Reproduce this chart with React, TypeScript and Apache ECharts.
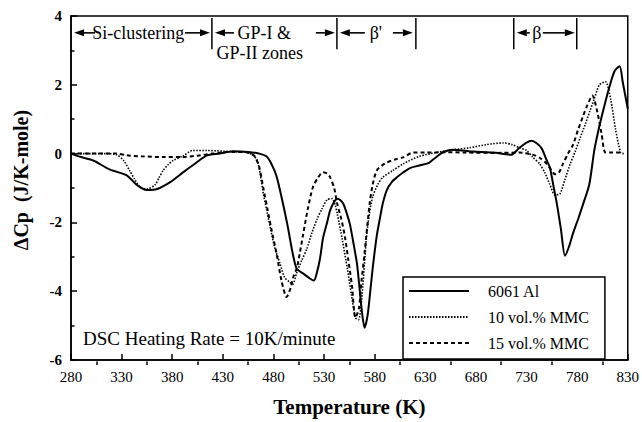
import React, { useEffect, useRef } from "react";
import * as echarts from "echarts";

const FONT = "'Liberation Serif', 'Times New Roman', serif";

// Temperature (K), ΔCp (J/K-mole)
const al6061: [number, number][] = [
  [280, 0], [290, -0.1], [302, -0.2], [318, -0.46], [335, -0.63], [345, -0.91], [355, -1.06],
  [365, -1.03], [378, -0.83], [391, -0.54], [404, -0.26], [414, -0.06], [427, 0], [440, 0.07],
  [455, 0.05], [466, 0.0], [473, -0.08], [478, -0.3], [483, -0.65], [489, -1.4], [494, -2.1],
  [499, -2.9], [503, -3.35], [509, -3.48], [516, -3.63], [520, -3.69], [523, -3.45], [526, -3.05],
  [529, -2.45], [533, -2.0], [536, -1.65], [540, -1.4], [543, -1.31], [546, -1.35], [549, -1.46],
  [552, -1.7], [555.5, -2.05], [559, -2.6], [562.5, -3.2], [565, -3.9], [567, -4.49], [570, -5.06],
  [573, -4.7], [576, -3.9], [578, -3.34], [582, -2.4], [585, -1.91], [588, -1.45], [592, -1.06],
  [597, -0.82], [602, -0.69], [608, -0.55], [615, -0.42], [625, -0.34], [634, -0.26], [640, -0.12],
  [647, 0.03], [657, 0.11], [667, 0.09], [677, 0.06], [697, 0.03], [715, -0.03], [723, 0.17],
  [730, 0.32], [735, 0.37], [740, 0.3], [745, 0.15], [750, -0.2], [753, -0.4], [757, -1.0],
  [760, -1.46], [764, -2.2], [768, -2.97], [772, -2.7], [776, -2.31], [781, -1.9], [786, -1.46],
  [792, -0.9], [797, 0.1], [802, 0.8], [807, 1.4], [812, 1.95], [817, 2.4], [822, 2.54],
  [825, 2.09], [830, 1.3],
];

const mmc10: [number, number][] = [
  [280, 0], [300, 0], [315, 0], [325, -0.03], [332, -0.2], [338, -0.5], [343, -0.75], [348, -0.97],
  [355, -1.03], [363, -0.91], [367, -0.7], [371, -0.49], [376, -0.32], [381, -0.2], [391, -0.06],
  [400, 0.09], [414, 0.09], [430, 0.07], [445, 0.05], [454, 0.03], [460, -0.05], [464, -0.2],
  [467, -0.6], [470, -1.17], [473, -1.6], [476.5, -2.1], [481, -2.7], [486.5, -3.2], [491, -3.6],
  [496, -3.74], [499, -3.8], [503, -3.46], [508, -3.1], [513, -2.77], [518, -2.3], [523, -1.91],
  [528, -1.6], [533, -1.34], [538, -1.31], [541, -1.5], [543, -1.74], [548, -2.5], [553, -3.34],
  [557, -4.1], [561, -4.77], [564, -4.83], [567, -4.31], [572, -2.4], [575, -1.7], [578, -1.26],
  [583, -0.9], [588, -0.69], [598, -0.49], [608, -0.3], [624, -0.08], [641, 0.03], [657, 0.11],
  [674, 0.17], [690, 0.26], [707, 0.31], [716, 0.26], [723, 0.17], [730, 0.09], [736, -0.1],
  [743, -0.3], [748, -0.55], [753, -0.89], [758, -1.2], [763, -1.17], [768, -0.75], [773, -0.31],
  [778, 0.05], [783, 0.46], [788, 0.85], [792.5, 1.23], [797, 1.6], [802, 2.0], [808, 2.09],
  [813, 1.6], [818, 0.7], [823, 0.03], [826, 0],
];

const mmc15: [number, number][] = [
  [280, 0], [300, 0], [325, 0], [335, -0.05], [350, -0.08], [370, -0.1], [390, -0.1], [405, -0.06],
  [420, 0.0], [435, 0.05], [450, 0.05], [458, 0.0], [462, -0.1], [466, -0.4], [470, -1.0],
  [474, -1.6], [478, -2.2], [483, -2.9], [488, -3.7], [493, -4.17], [497, -3.9], [500, -3.55],
  [503, -3.34], [506, -2.9], [509, -2.4], [514, -1.6], [519, -0.97], [524, -0.7], [529, -0.54],
  [533, -0.58], [536, -0.69], [540, -1.0], [543, -1.46], [547, -1.9], [550.5, -2.4], [554, -3.1],
  [557.5, -3.83], [561, -4.77], [564.5, -4.49], [567, -3.7], [570, -2.89], [575, -1.46],
  [578, -0.9], [582, -0.49], [587, -0.35], [592, -0.26], [600, -0.17], [608, -0.11], [618, 0.03],
  [630, 0.03], [650, 0.04], [670, 0.03], [700, 0.02], [723, 0.03], [736, -0.03], [743, -0.12],
  [750, -0.3], [755, -0.5], [758, -0.6], [762, -0.55], [766, -0.3], [771, 0.0], [776, 0.26],
  [781, 0.7], [786, 1.1], [790, 1.4], [795, 1.69], [800, 1.2], [804, 0.6], [808, 0.03],
  [815, 0.03], [823, 0.03],
];

const seriesNames = ["6061 Al", "10 vol.% MMC", "15 vol.% MMC"];
const xMajorTicks = [280, 330, 380, 430, 480, 530, 580, 630, 680, 730, 780, 830];
const xMinorTicks = [305, 355, 405, 455, 505, 555, 605, 655, 705, 755, 805];

// Region annotations (in data units): separators, arrows, texts
const regionSeparators = [419.2, 542.7, 620.7, 717.4, 779.6];
const regionArrows: [number, number][] = [
  // [tip, tail]
  [283, 303.7], [417.3, 392.6],
  [422.2, 441], [540.7, 521.9],
  [545.6, 570.3], [617.7, 598],
  [720.4, 733.2], [777.7, 746.1],
];
const regionTexts: { t: number; v: number; text: string; align: string }[] = [
  { t: 346.5, v: 3.51, text: "Si-clustering", align: "center" },
  { t: 444.5, v: 3.51, text: "GP-I &", align: "left" },
  { t: 423.8, v: 2.93, text: "GP-II zones", align: "left" },
  { t: 581.2, v: 3.51, text: "β'", align: "center" },
  { t: 740.1, v: 3.51, text: "β", align: "center" },
];
const noteText = { t: 291.9, v: -5.37, text: "DSC Heating Rate = 10K/minute" };

export default function App() {
  const ref = useRef<HTMLDivElement>(null);

  useEffect(() => {
    if (!ref.current) return;
    const chart = echarts.init(ref.current, undefined, { renderer: "svg" });
    const black = "#000";

    chart.setOption({
      animation: false,
      backgroundColor: "#fff",
      grid: {
        left: 71,
        right: 14,
        top: 16,
        bottom: 57,
        show: true,
        borderColor: black,
        borderWidth: 1.5,
        backgroundColor: "transparent",
      },
      legend: {
        orient: "vertical",
        left: 403,
        top: 277,
        data: seriesNames,
        padding: [6, 16, 8, 5],
        itemWidth: 60,
        itemHeight: 14,
        itemGap: 10,
        borderColor: black,
        borderWidth: 1.5,
        backgroundColor: "#fff",
        selectedMode: false,
        itemStyle: { color: "transparent", borderColor: "transparent", borderWidth: 0, opacity: 0 },
        textStyle: { color: black, fontSize: 16, fontFamily: FONT, padding: [0, 0, 0, 14] },
      },
      xAxis: [
        {
          type: "value",
          min: 280,
          max: 830,
          position: "bottom",
          axisLine: { show: true, onZero: false, lineStyle: { color: black, width: 1.5 } },
          axisTick: {
            show: true,
            inside: true,
            length: 6,
            customValues: xMajorTicks,
            lineStyle: { color: black, width: 1.5 },
          },
          axisLabel: {
            customValues: xMajorTicks,
            color: black,
            fontSize: 15,
            fontFamily: FONT,
            margin: 9,
          },
          splitLine: { show: false },
          name: "Temperature (K)",
          nameLocation: "middle",
          nameGap: 36,
          nameTextStyle: {
            color: black,
            fontSize: 21,
            fontWeight: "bold",
            fontFamily: FONT,
            verticalAlign: "top",
          },
        },
        {
          type: "value",
          min: 280,
          max: 830,
          position: "top",
          offset: -349,
          axisLine: { show: false },
          axisTick: {
            show: true,
            inside: false,
            length: 3.5,
            customValues: xMinorTicks,
            lineStyle: { color: black, width: 1.5 },
          },
          axisLabel: { show: false },
          splitLine: { show: false },
        },
      ],
      yAxis: {
        type: "value",
        min: -6,
        max: 4,
        interval: 2,
        axisLine: { show: true, onZero: false, lineStyle: { color: black, width: 1.5 } },
        axisTick: { show: true, inside: true, length: 6, lineStyle: { color: black, width: 1.5 } },
        minorTick: { show: true, splitNumber: 2, length: 3.5, lineStyle: { color: black, width: 1.5 } },
        axisLabel: { color: black, fontSize: 15, fontWeight: "bold", fontFamily: FONT, margin: 9 },
        splitLine: { show: false },
      },
      series: [
        {
          name: seriesNames[0],
          type: "line",
          data: al6061,
          symbol: "none",
          smooth: 0.25,
          lineStyle: { color: black, width: 2, type: "solid" },
          itemStyle: { color: black },
          z: 3,
        },
        {
          name: seriesNames[1],
          type: "line",
          data: mmc10,
          symbol: "none",
          smooth: 0.25,
          lineStyle: { color: black, width: 1.6, type: [1.5, 1.5] },
          itemStyle: { color: black },
          z: 2,
        },
        {
          name: seriesNames[2],
          type: "line",
          data: mmc15,
          symbol: "none",
          smooth: 0.25,
          lineStyle: { color: black, width: 2, type: [4, 3] },
          itemStyle: { color: black },
          z: 2,
        },
      ],
    });

    const px = (t: number, v: number) =>
      chart.convertToPixel({ xAxisIndex: 0, yAxisIndex: 0 }, [t, v]) as number[];

    const graphics: any[] = [];
    // separators
    regionSeparators.forEach((t) => {
      const a = px(t, 3.94);
      const b = px(t, 3.03);
      graphics.push({
        type: "line",
        shape: { x1: a[0], y1: a[1], x2: b[0], y2: b[1] },
        style: { stroke: black, lineWidth: 1.5 },
      });
    });
    // arrows
    regionArrows.forEach(([tip, tail]) => {
      const p = px(tip, 3.51);
      const q = px(tail, 3.51);
      const dir = q[0] > p[0] ? 1 : -1;
      const headLen = 10;
      const base = p[0] + dir * headLen;
      graphics.push({
        type: "line",
        shape: { x1: base, y1: p[1], x2: q[0], y2: q[1] },
        style: { stroke: black, lineWidth: 1.6 },
      });
      graphics.push({
        type: "polygon",
        shape: { points: [[p[0], p[1]], [base, p[1] - 3.5], [base, p[1] + 3.5]] },
        style: { fill: black },
      });
    });
    // texts
    regionTexts.forEach((r) => {
      const p = px(r.t, r.v);
      graphics.push({
        type: "text",
        x: p[0],
        y: p[1],
        style: {
          text: r.text,
          fill: black,
          font: `18px ${FONT}`,
          align: r.align,
          verticalAlign: "middle",
        },
      });
    });
    const n = px(noteText.t, noteText.v);
    graphics.push({
      type: "text",
      x: n[0],
      y: n[1],
      style: { text: noteText.text, fill: black, font: `19px ${FONT}`, align: "left", verticalAlign: "middle" },
    });
    // y axis title
    graphics.push({
      type: "text",
      x: 21,
      y: 180,
      rotation: Math.PI / 2,
      style: {
        text: "ΔCp  (J/K-mole)",
        fill: black,
        font: `bold 20px ${FONT}`,
        align: "center",
        verticalAlign: "middle",
      },
    });

    chart.setOption({ graphic: graphics });

    return () => chart.dispose();
  }, []);

  return (
    <div
      ref={ref}
      style={{ position: "fixed", left: 0, top: 0, width: 642, height: 422, background: "#fff" }}
    />
  );
}
